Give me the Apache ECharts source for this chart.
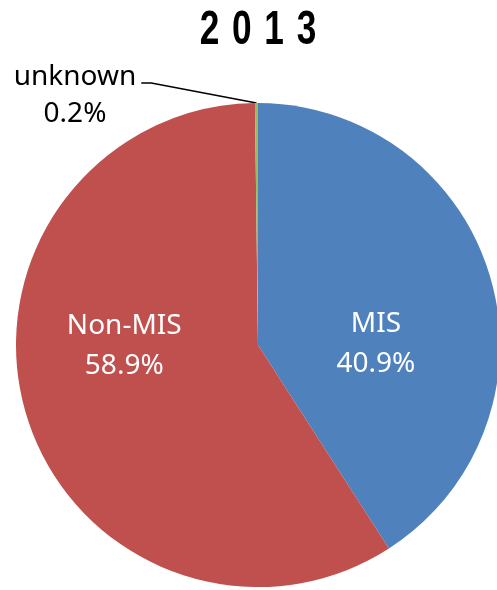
<!DOCTYPE html>
<html>
<head>
<meta charset="utf-8">
<script src="https://cdn.jsdelivr.net/npm/echarts@6/dist/echarts.min.js"></script>
<style>
  html, body { margin: 0; padding: 0; background: #fff; }
  #chart { width: 497px; height: 590px; }
</style>
</head>
<body>
<div id="chart"></div>
<script>
// data
const categories = ['MIS', 'Non-MIS', 'unknown']
const shares = [40.9, 58.9, 0.2]
const colors = ['#4F81BD', '#C0504D', '#9BBB59']
const titleText = '2 \u200A0 \u200A1 \u200A3'

// label nudges so they sit where the original ones do
const labelShift = {
  MIS: { dx: -1, dy: 34 },
  'Non-MIS': { dx: -15, dy: -35 }
}

let chart = echarts.init(document.getElementById('chart'))

let data = categories.map((name, i) => {
  let item = { name: name, value: shares[i], itemStyle: { color: colors[i] } }
  if (name === 'unknown') {
    item.label = {
      position: 'outside',
      color: '#000',
      align: 'center',
      padding: [0, 5, 0, 5],
      // blank first row lifts the box middle so the leader meets the first line
      formatter: p => '{e| }\n{a|' + p.name + '}\n{a|' + p.value.toFixed(1) + '%}',
      rich: {
        e: { fontSize: 10, lineHeight: 25 },
        a: { fontFamily: 'Noto Sans', fontSize: 28, lineHeight: 37, color: '#000' }
      }
    }
    item.labelLine = { show: true, length: 10, length2: 10, lineStyle: { color: '#000', width: 1.5 } }
  }
  return item
})

chart.setOption({
  animation: false,
  // condensed bold title: no narrow font installed, so squeeze a normal one
  graphic: [{
    type: 'text',
    x: 258,
    y: 30,
    scaleX: 0.72,
    style: {
      text: titleText,
      font: 'bold 49px "Liberation Sans"',
      fill: '#000',
      align: 'center',
      verticalAlign: 'middle'
    }
  }],
  series: [{
    type: 'pie',
    center: [258, 345],
    radius: 242,
    startAngle: 90,
    clockwise: true,
    avoidLabelOverlap: false,
    itemStyle: { borderWidth: 0 },
    label: {
      show: true,
      position: 'inside',
      formatter: p => p.name + '\n' + p.value.toFixed(1) + '%',
      fontFamily: 'Noto Sans',
      fontSize: 28,
      lineHeight: 40,
      color: '#fff'
    },
    labelLine: { show: false },
    labelLayout: params => {
      let name = categories[params.dataIndex]
      if (name === 'unknown') {
        return { x: 75, y: 83, align: 'center', verticalAlign: 'middle' }
      }
      return labelShift[name] || {}
    },
    data: data
  }]
})
</script>
</body>
</html>
